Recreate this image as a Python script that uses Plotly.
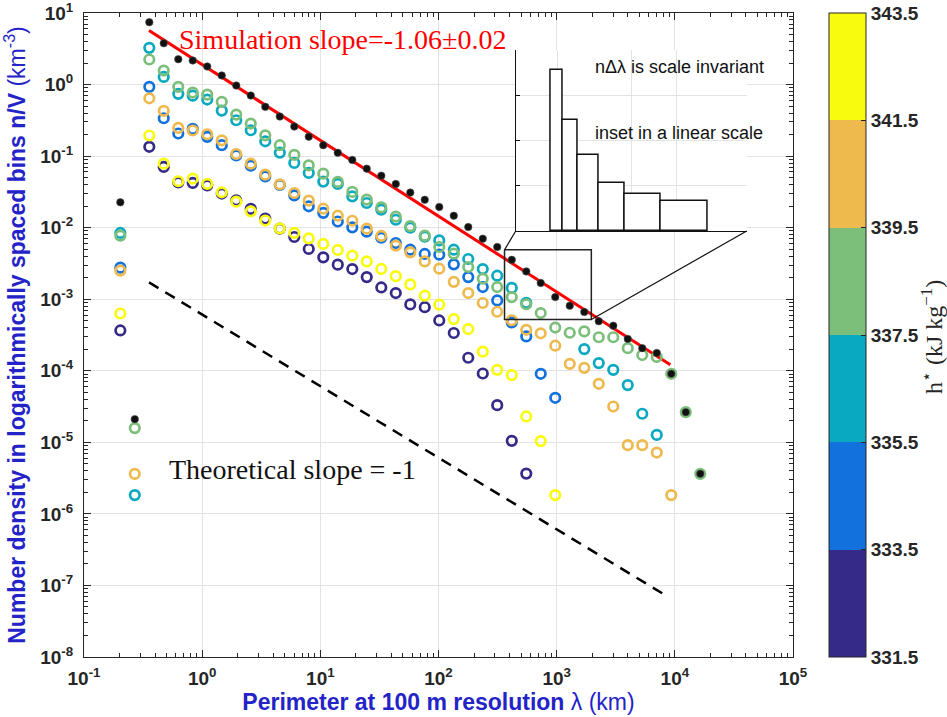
import numpy as np
import plotly.graph_objects as go

# ---------------- data ----------------
lambda_km = [0.203, 0.269, 0.357, 0.473, 0.628, 0.832, 1.104, 1.465, 1.943, 2.578,
             3.42, 4.54, 6.02, 7.98, 10.59, 14.05, 18.64, 24.7, 32.8, 43.5,
             57.7, 76.5, 101.5, 134.7, 178.6, 237, 314, 417, 553, 733,
             973, 1291, 1713, 2272, 3013, 3997, 5302, 7033, 9330, 12376, 16418]

n_all = [0.0226, 2.11e-5, 7.44, 3.78, 2.26, 2.17, 1.79, 1.34, 0.968, 0.702,
         0.488, 0.357, 0.259, 0.187, 0.142, 0.111, 0.0885, 0.0668, 0.0533, 0.0408,
         0.0309, 0.0245, 0.0194, 0.0147, 0.0102, 0.00702, 0.00537, 0.00355, 0.00245, 0.00169,
         0.00107, 0.000811, 0.000664, 0.000492, 0.000426, 0.000279, 0.000207, 0.000177, 9.08e-5, 2.64e-5,
         3.63e-6]

n_331 = [0.000366, None, 0.135, 0.0706, 0.043, 0.0422, 0.039, 0.030, 0.0241, 0.0183,
         0.0134, 0.0097, 0.00741, 0.00504, 0.00385, 0.00304, 0.00264, 0.00204, 0.00146, 0.00122,
         0.000846, 0.000773, 0.000505, 0.000337, 0.000152, 9.16e-5, 3.31e-5, 1.05e-5, 3.66e-6, None,
         None, None, None, None, None, None, None, None, None, None, None]

n_333 = [0.00276, None, 0.929, 0.338, 0.207, 0.240, 0.186, 0.142, 0.102, 0.0736,
         0.0521, 0.0395, 0.0283, 0.0199, 0.0161, 0.0122, 0.0101, 0.00879, 0.00724, 0.00611,
         0.00492, 0.00429, 0.00419, 0.00307, 0.00204, 0.00148, 0.000962, 0.000474, 0.000302, 9.08e-5,
         4.19e-5, None, None, None, None, None, None, None, None, None, None]

n_335 = [0.00843, 1.83e-6, 3.26, 1.28, 0.741, 0.70, 0.617, 0.433, 0.317, 0.230,
         0.161, 0.112, 0.0804, 0.0582, 0.0440, 0.0408, 0.0274, 0.0221, 0.0179, 0.0129,
         0.0100, 0.00748, 0.00664, 0.00492, 0.00365, 0.00264, 0.00213, 0.00144, 0.000893, None,
         None, None, 0.000201, 0.000128, 0.000103, 6.31e-5, 2.51e-5, 1.27e-5, None, None, None]

n_337 = [0.00773, 1.58e-5, 2.24, 1.57, 0.929, 0.773, 0.724, 0.573, 0.380, 0.285,
         0.195, 0.142, 0.104, 0.0743, 0.0569, 0.0436, 0.0316, 0.0247, 0.0192, 0.0143,
         0.0105, 0.00773, 0.00537, 0.00433, 0.00282, 0.00194, 0.00148, 0.00107, 0.000851, 0.000641,
         0.000402, 0.00034, 0.000355, 0.000294, 0.000294, 0.000207, 0.000166, 0.000156, 9.08e-5, 2.64e-5,
         3.63e-6]

n_339 = [0.00251, 3.62e-6, 0.643, 0.429, 0.248, 0.228, 0.202, 0.166, 0.107, 0.0785,
         0.0551, 0.0404, 0.0305, 0.0239, 0.0184, 0.0147, 0.0125, 0.00968, 0.00766, 0.0056,
         0.00452, 0.00338, 0.00267, 0.00175, 0.00122, 0.000885, 0.000668, 0.000508, 0.000374, 0.000334,
         0.000224, 0.000125, 0.00011, 6.58e-5, 3.17e-5, 9.14e-6, 9.14e-6, 7.2e-6, 1.83e-6, None, None]

n_341 = [0.000632, None, 0.194, 0.0785, 0.0445, 0.0484, 0.0408, 0.0312, 0.0231, 0.0169,
         0.0126, 0.00977, 0.00843, 0.00708, 0.00592, 0.00488, 0.00406, 0.00338, 0.00265, 0.0021,
         0.00161, 0.00112, 0.000838, 0.000528, 0.000383, 0.000185, 0.000103, 8.71e-5, 2.3e-5, 1.04e-5,
         1.83e-6, None, None, None, None, None, None, None, None, None, None]

series_by_level = [n_331, n_333, n_335, n_337, n_339, n_341]
level_edges = [331.5, 333.5, 335.5, 337.5, 339.5, 341.5, 343.5]
level_colors = ["#352a87", "#1271dc", "#09a9c1", "#7cbf7a", "#eeb94d", "#f9fb0e"]

fit_x = [0.355, 9160]
fit_y = [5.69, 1.21e-4]
theory_x = [0.355, 8810]
theory_y = [0.00172, 6.9e-8]

x_decades = [-1, 0, 1, 2, 3, 4, 5]
y_decades = [-8, -7, -6, -5, -4, -3, -2, -1, 0, 1]

# inset: bins of the zoomed region (linear scale)
inset_edges = [362, 480, 636, 843, 1118, 1482, 1965]
inset_n = n_all[27:33]
zoom_y = [5.2e-4, 4.9e-3]
inset_xrange = [0, 2360]
inset_yrange = [0, 0.004]

# ---------------- figure ----------------
W, H = 947, 717
ML, MR, MT, MB = 84, 154, 13, 60
PW, PH = W - ML - MR, H - MT - MB
x_log_range = [-1, 5]
y_log_range = [-8, 1]
inset_dom_x = [(515.7 - ML) / PW, (746.7 - ML) / PW]
inset_dom_y = [(H - MB - 231) / PH, (H - MB - 50) / PH]

AX = "#262626"
GRID = "#e3e3e3"
BLUE = "#2323c8"
SANS = "Liberation Sans"
SERIF = "Liberation Serif"

fig = go.Figure()

fig.add_trace(go.Scatter(x=fit_x, y=fit_y, mode="lines",
                         line=dict(color="#ff0000", width=3), hoverinfo="skip", showlegend=False))
fig.add_trace(go.Scatter(x=theory_x, y=theory_y, mode="lines",
                         line=dict(color="black", width=2.5, dash="11px,8px"),
                         hoverinfo="skip", showlegend=False))

for vals, col in zip(series_by_level, level_colors):
    fig.add_trace(go.Scatter(x=lambda_km, y=vals, mode="markers",
                             marker=dict(symbol="circle-open", size=9.5, color=col,
                                         line=dict(width=2.7, color=col)),
                             showlegend=False))

fig.add_trace(go.Scatter(x=lambda_km, y=n_all, mode="markers",
                         marker=dict(symbol="circle", size=7.5, color="#111111",
                                     line=dict(width=0.6, color="#555555")),
                         showlegend=False))

# zoom rectangle (data coords)
rx = [inset_edges[0], inset_edges[-1], inset_edges[-1], inset_edges[0], inset_edges[0]]
ry = [zoom_y[1], zoom_y[1], zoom_y[0], zoom_y[0], zoom_y[1]]
fig.add_trace(go.Scatter(x=rx, y=ry, mode="lines", line=dict(color="#222222", width=1.5),
                         hoverinfo="skip", showlegend=False))

# colorbar (dummy trace)
cs = []
for i, c in enumerate(level_colors):
    cs.append([i / 6, c])
    cs.append([(i + 1) / 6, c])
fig.add_trace(go.Scatter(
    x=[None], y=[None], mode="markers",
    marker=dict(color=[337.5], colorscale=cs, cmin=level_edges[0], cmax=level_edges[-1],
                showscale=True,
                colorbar=dict(
                    thickness=37, thicknessmode="pixels",
                    len=1, lenmode="fraction",
                    x=829 / W, xref="container", xanchor="left", xpad=0,
                    y=0.5, yref="paper", yanchor="middle", ypad=0,
                    outlinewidth=1, outlinecolor=AX,
                    tickmode="array",
                    tickvals=level_edges, ticktext=[f"{v:.1f}" for v in level_edges],
                    ticks="inside", ticklen=5, tickcolor=AX,
                    ticklabeloverflow="allow",
                    tickfont=dict(family=SANS, size=19, color=AX, weight="bold"),
                )),
    showlegend=False, hoverinfo="skip"))

# inset bars
edges = np.array(inset_edges, dtype=float)
centers = (edges[:-1] + edges[1:]) / 2
widths = np.diff(edges)
fig.add_trace(go.Bar(x=centers, y=inset_n, width=widths, xaxis="x2", yaxis="y2",
                     marker=dict(color="white", line=dict(color="#111111", width=1.5)),
                     showlegend=False, hoverinfo="skip"))

def power_labels(decades):
    return [f"10<sup>{d}</sup>" for d in decades]

axis_common = dict(showline=True, linecolor=AX, linewidth=1, mirror="allticks",
                   ticks="inside", ticklen=7, tickcolor=AX,
                   showgrid=True, gridcolor=GRID, gridwidth=1, zeroline=False,
                   tickfont=dict(family=SANS, size=19, color=AX, weight="bold"),
                   automargin=False, ticklabeloverflow="allow",
                   minor=dict(ticks="inside", ticklen=4, tickcolor=AX, dtick="D1", showgrid=False))

fig.update_layout(
    width=W, height=H,
    margin=dict(l=ML, r=MR, t=MT, b=MB, autoexpand=False),
    paper_bgcolor="white", plot_bgcolor="white",
    showlegend=False,
    xaxis=dict(type="log", range=x_log_range, tickmode="array",
               tickvals=[10.0 ** d for d in x_decades], ticktext=power_labels(x_decades),
               ticklabelstandoff=4,
               title=dict(text="<b>Perimeter at 100 m resolution</b> λ (km)",
                          font=dict(family=SANS, size=23, color=BLUE), standoff=4),
               **axis_common),
    yaxis=dict(type="log", range=y_log_range, tickmode="array",
               tickvals=[10.0 ** d for d in y_decades], ticktext=power_labels(y_decades),
               ticklabelstandoff=6,
               title=dict(text="<b>Number density in logarithmically spaced bins n/V</b> (km<sup>-3</sup>)",
                          font=dict(family=SANS, size=23, color=BLUE), standoff=10),
               **axis_common),
    xaxis2=dict(domain=inset_dom_x, anchor="y2", range=inset_xrange,
                showline=True, linecolor="#111111", linewidth=1,
                showgrid=True, gridcolor=GRID, tickmode="array", tickvals=[425, 1180, 1640, 2360],
                showticklabels=False, ticks="", zeroline=False),
    yaxis2=dict(domain=inset_dom_y, anchor="x2", range=inset_yrange,
                showline=True, linecolor="#111111", linewidth=1,
                showgrid=True, gridcolor=GRID, tickmode="array", tickvals=[0.001, 0.002, 0.003, 0.004],
                showticklabels=False, ticks="inside", ticklen=4, tickcolor="#111111",
                zeroline=False),
    bargap=0,
)

def px_frac(v):
    return (np.log10(v) - x_log_range[0]) / (x_log_range[1] - x_log_range[0])

def py_frac(v):
    return (np.log10(v) - y_log_range[0]) / (y_log_range[1] - y_log_range[0])

fig.add_shape(type="line", xref="paper", yref="paper",
              x0=px_frac(inset_edges[0]), y0=py_frac(zoom_y[1]),
              x1=inset_dom_x[0], y1=inset_dom_y[0], line=dict(color="#111111", width=1.2))
fig.add_shape(type="line", xref="paper", yref="paper",
              x0=px_frac(inset_edges[-1]), y0=py_frac(zoom_y[0]),
              x1=inset_dom_x[1], y1=inset_dom_y[0], line=dict(color="#111111", width=1.2))

# texts
fig.add_annotation(x=-0.216, y=0.629, xref="x", yref="y", xanchor="left", yanchor="middle",
                   text="Simulation slope=-1.06±0.02", showarrow=False,
                   font=dict(family=SERIF, size=28, color="#ff0000"))
fig.add_annotation(x=-0.30, y=-5.385, xref="x", yref="y", xanchor="left", yanchor="middle",
                   text="Theoretical slope = -1", showarrow=False,
                   font=dict(family=SERIF, size=28, color="#111111"))
fig.add_annotation(x=787, y=0.003624, xref="x2", yref="y2", xanchor="left", yanchor="middle",
                   text="nΔλ is scale invariant", showarrow=False,
                   font=dict(family=SANS, size=18, color="#111111"))
fig.add_annotation(x=787, y=0.002172, xref="x2", yref="y2", xanchor="left", yanchor="middle",
                   text="inset in a linear scale", showarrow=False,
                   font=dict(family=SANS, size=18, color="#111111"))
# colorbar title
fig.add_annotation(x=(932 - ML) / PW, y=(H - MB - 337) / PH, xref="paper", yref="paper",
                   xanchor="center", yanchor="middle", textangle=-90,
                   text="h<sup>⋆</sup> (kJ kg<sup>−1</sup>)", showarrow=False,
                   font=dict(family=SERIF, size=24, color=AX))

fig.write_html("out.html", config={"displayModeBar": False},
               post_script="document.body.style.margin='0px';")
